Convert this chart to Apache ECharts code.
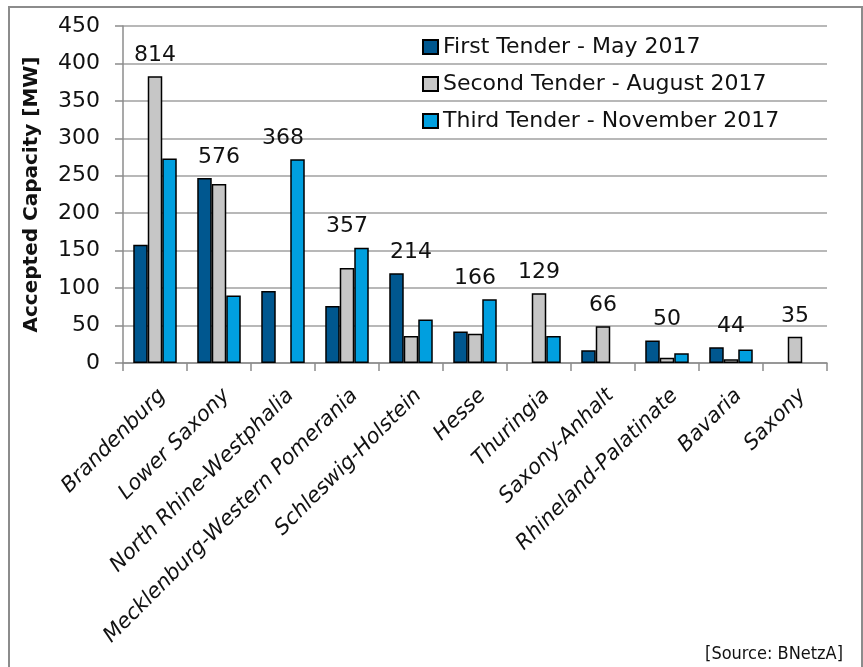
<!DOCTYPE html>
<html style="height:100%">
<head>
  <meta charset="UTF-8">
  <title>Accepted Capacity by State</title>
  <script src="https://cdn.jsdelivr.net/npm/echarts/dist/echarts.min.js"></script>
  <style>
    html, body { margin: 0; padding: 0; background: #fff; }
    #chart { width: 863px; height: 667px; }
  </style>
</head>
<body>
<div id="chart"></div>
<script>
  // ---------------------------------
  // Data
  var states = ['Brandenburg', 'Lower Saxony', 'North Rhine-Westphalia',
    'Mecklenburg-Western Pomerania', 'Schleswig-Holstein', 'Hesse',
    'Thuringia', 'Saxony-Anhalt', 'Rhineland-Palatinate', 'Bavaria', 'Saxony'];
  var firstTender  = [158, 247, 96, 76, 120, 42, 0, 17, 30, 21, 0];
  var secondTender = [383, 239, 0, 127, 36, 39, 93, 49, 7, 5, 35];
  var thirdTender  = [273, 90, 272, 154, 58, 85, 36, 0, 13, 18, 0];
  var totals       = [814, 576, 368, 357, 214, 166, 129, 66, 50, 44, 35];
  var seriesNames = ['First Tender - May 2017', 'Second Tender - August 2017',
    'Third Tender - November 2017'];
  // ---------------------------------

  var FONT = '"DejaVu Sans", sans-serif';
  var colors = ['#00578f', '#c6c6c6', '#009fdf'];

  // total label sits on top of the tallest bar of each state
  var labelPoints = states.map(function (s, i) {
    return [i, Math.max(firstTender[i], secondTender[i], thirdTender[i])];
  });

  function barSeries(name, data, color) {
    return {
      name: name,
      type: 'bar',
      data: data.map(function (v) { return v === 0 ? null : v; }),
      barGap: '0%',
      barCategoryGap: '32%',
      itemStyle: { color: color, borderColor: '#000', borderWidth: 1.5 }
    };
  }

  var myChart = echarts.init(document.getElementById('chart'));

  var option = {
    animation: false,
    textStyle: { fontFamily: FONT },
    grid: { left: 123, right: 36, top: 26, bottom: 304 },
    graphic: [
      {
        type: 'rect',
        shape: { x: 9, y: 7, width: 853, height: 700 },
        style: { fill: 'none', stroke: '#8c8c8c', lineWidth: 2 },
        silent: true
      },
      {
        type: 'text',
        right: 20,
        top: 645,
        style: {
          text: '[Source: BNetzA]',
          fontFamily: '"Liberation Sans Narrow", "DejaVu Sans Condensed", sans-serif',
          fontSize: 18,
          fill: '#111'
        }
      }
    ],
    legend: {
      orient: 'vertical',
      left: 417,
      top: 30,
      itemWidth: 15,
      itemHeight: 14,
      itemGap: 13,
      icon: 'rect',
      textStyle: { fontFamily: FONT, fontSize: 22, color: '#111', lineHeight: 24 },
      data: seriesNames
    },
    xAxis: {
      type: 'category',
      data: states,
      axisLine: { lineStyle: { color: '#8c8c8c', width: 1.5 } },
      axisTick: { show: true, length: 8, lineStyle: { color: '#8c8c8c', width: 1.5 } },
      axisLabel: {
        interval: 0,
        rotate: 45,
        margin: 22,
        verticalAlign: 'top',
        fontFamily: FONT,
        fontSize: 21,
        fontStyle: 'italic',
        color: '#111'
      }
    },
    yAxis: {
      type: 'value',
      min: 0,
      max: 450,
      interval: 50,
      name: 'Accepted Capacity [MW]',
      nameLocation: 'middle',
      nameGap: 81,
      nameTextStyle: { fontFamily: FONT, fontSize: 20, fontWeight: 'bold', color: '#111' },
      axisLine: { show: true, lineStyle: { color: '#8c8c8c', width: 1.5 } },
      axisTick: { show: true, length: 8, lineStyle: { color: '#8c8c8c', width: 1.5 } },
      axisLabel: { fontFamily: FONT, fontSize: 22, color: '#111', margin: 23 },
      splitLine: { lineStyle: { color: '#a0a0a0', width: 1.5 } }
    },
    series: [
      barSeries(seriesNames[0], firstTender, colors[0]),
      barSeries(seriesNames[1], secondTender, colors[1]),
      barSeries(seriesNames[2], thirdTender, colors[2]),
      {
        name: 'Total',
        type: 'scatter',
        symbolSize: 0,
        data: labelPoints,
        silent: true,
        z: 5,
        itemStyle: { opacity: 1 },
        label: {
          show: true,
          position: 'top',
          distance: 10,
          fontFamily: FONT,
          fontSize: 22,
          color: '#111',
          formatter: function (p) { return totals[p.dataIndex]; }
        }
      }
    ]
  };

  myChart.setOption(option);
</script>
</body>
</html>
